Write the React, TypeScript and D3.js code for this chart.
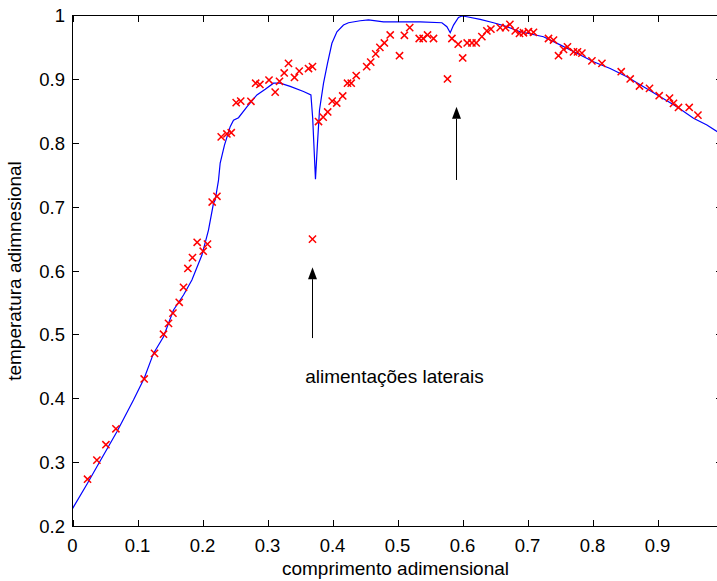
import React, { useEffect, useRef } from 'react';
import * as d3 from 'd3';

// Simulated profile (blue line)
const lineX = [0, 0.0231, 0.0375, 0.0683, 0.0938, 0.1103, 0.1246, 0.14, 0.1554, 0.1708, 0.1837, 0.1991, 0.2092, 0.2169, 0.2195, 0.2246, 0.2272, 0.2338, 0.2426, 0.2477, 0.2554, 0.2683, 0.2837, 0.2965, 0.3092, 0.3195, 0.3349, 0.3554, 0.3668, 0.3695, 0.3738, 0.3769, 0.38, 0.3862, 0.3923, 0.3991, 0.4068, 0.4169, 0.4246, 0.4426, 0.4554, 0.4785, 0.5015, 0.5349, 0.5683, 0.576, 0.5811, 0.5862, 0.5938, 0.5991, 0.6068, 0.6272, 0.6477, 0.6683, 0.6888, 0.7246, 0.7503, 0.776, 0.8015, 0.8272, 0.8529, 0.8785, 0.9042, 0.9298, 0.9554, 0.976, 1.0];
const lineY = [0.228, 0.2676, 0.2936, 0.3484, 0.398, 0.432, 0.471, 0.497, 0.539, 0.5624, 0.586, 0.625, 0.664, 0.706, 0.711, 0.742, 0.769, 0.797, 0.826, 0.836, 0.84, 0.857, 0.8756, 0.8845, 0.894, 0.894, 0.889, 0.881, 0.8756, 0.8395, 0.7436, 0.8, 0.852, 0.894, 0.925, 0.9565, 0.9746, 0.985, 0.9887, 0.9918, 0.993, 0.99, 0.99, 0.99, 0.9887, 0.9824, 0.973, 0.985, 0.997, 0.9992, 0.998, 0.994, 0.9887, 0.9825, 0.9746, 0.9668, 0.954, 0.941, 0.9277, 0.917, 0.904, 0.8885, 0.8729, 0.857, 0.839, 0.8286, 0.813];

// Experimental points (red x)
const markX = [0.0231, 0.0375, 0.0514, 0.0668, 0.1103, 0.1262, 0.14, 0.1477, 0.1545, 0.1642, 0.1708, 0.1775, 0.1846, 0.1918, 0.2011, 0.2077, 0.2149, 0.2222, 0.2288, 0.2375, 0.2442, 0.2518, 0.2588, 0.2745, 0.2818, 0.2883, 0.3023, 0.3118, 0.3185, 0.3257, 0.3323, 0.3415, 0.3488, 0.3631, 0.3692, 0.3692, 0.3785, 0.3857, 0.3926, 0.3995, 0.4065, 0.4157, 0.4231, 0.4288, 0.4365, 0.4526, 0.4588, 0.4665, 0.4729, 0.4798, 0.4888, 0.5031, 0.5106, 0.5188, 0.5334, 0.5395, 0.5462, 0.5554, 0.5769, 0.5837, 0.5934, 0.6003, 0.6072, 0.6145, 0.6211, 0.6298, 0.6375, 0.6437, 0.658, 0.6662, 0.6729, 0.6811, 0.6877, 0.6938, 0.7015, 0.7092, 0.7323, 0.74, 0.7477, 0.7554, 0.7615, 0.7708, 0.7769, 0.7837, 0.7991, 0.8145, 0.8442, 0.858, 0.8723, 0.8877, 0.9026, 0.9185, 0.9246, 0.9323, 0.9488, 0.9622];
const markY = [0.274, 0.304, 0.328, 0.353, 0.431, 0.471, 0.501, 0.518, 0.534, 0.551, 0.5745, 0.604, 0.621, 0.645, 0.631, 0.642, 0.708, 0.717, 0.81, 0.8145, 0.8165, 0.8635, 0.866, 0.8657, 0.894, 0.892, 0.899, 0.88, 0.897, 0.91, 0.925, 0.903, 0.913, 0.917, 0.92, 0.65, 0.834, 0.841, 0.849, 0.866, 0.863, 0.874, 0.894, 0.894, 0.906, 0.92, 0.927, 0.94, 0.95, 0.957, 0.9695, 0.937, 0.969, 0.981, 0.964, 0.964, 0.9695, 0.964, 0.9006, 0.964, 0.955, 0.9335, 0.957, 0.957, 0.957, 0.967, 0.976, 0.9786, 0.981, 0.981, 0.986, 0.976, 0.972, 0.973, 0.9746, 0.9737, 0.964, 0.9616, 0.937, 0.947, 0.951, 0.943, 0.943, 0.941, 0.929, 0.925, 0.912, 0.9006, 0.8896, 0.886, 0.8744, 0.8708, 0.8625, 0.856, 0.856, 0.844];

// x tick at 1 lies beyond the visible picture; its label is not shown
const xTickValues = [0, 0.1, 0.2, 0.3, 0.4, 0.5, 0.6, 0.7, 0.8, 0.9, 1];
const xTickLabels = ['0', '0.1', '0.2', '0.3', '0.4', '0.5', '0.6', '0.7', '0.8', '0.9', ''];
const yTickValues = [0.2, 0.3, 0.4, 0.5, 0.6, 0.7, 0.8, 0.9, 1];
const yTickLabels = ['0.2', '0.3', '0.4', '0.5', '0.6', '0.7', '0.8', '0.9', '1'];

const xTitle = 'comprimento adimensional';
const yTitle = 'temperatura adimnesional';
const noteText = 'alimentações laterais';
const notePos = [0.358, 0.4246];
const arrowX = [0.3689, 0.5895];
const arrowTailY = [0.495, 0.7425];
const arrowHeadY = [0.606, 0.857];

const FONT = 'Liberation Sans, Arial, Helvetica, sans-serif';

export default function App() {
  const ref = useRef<SVGSVGElement>(null);
  useEffect(() => {
    const svg = d3.select(ref.current);
    svg.selectAll('*').remove();
    const left = 72.5, right = 722.5, top = 15.5, bottom = 526.5;
    const x = d3.scaleLinear().domain([0, 1]).range([left, right]);
    const y = d3.scaleLinear().domain([0.2, 1]).range([bottom, top]);
    const tickLen = 6.5;

    svg.append('rect').attr('width', 717).attr('height', 581).attr('fill', '#fff');

    // blue line
    const pts = lineX.map((v, i) => [v, lineY[i]] as [number, number]);
    svg.append('path')
      .attr('d', d3.line<[number, number]>().x(d => x(d[0])).y(d => y(d[1]))(pts))
      .attr('fill', 'none').attr('stroke', '#0000ff').attr('stroke-width', 1.2);

    // markers
    const s = 3.6;
    const mg = svg.append('g');
    markX.forEach((v, i) => {
      const cx = x(v);
      const cy = y(markY[i]);
      mg.append('path')
        .attr('d', `M${cx - s},${cy - s}L${cx + s},${cy + s}M${cx - s},${cy + s}L${cx + s},${cy - s}`)
        .attr('stroke', '#ff0000').attr('stroke-width', 1.5).attr('fill', 'none');
    });

    // box
    const g = svg.append('g').attr('stroke', '#000').attr('stroke-width', 1).attr('fill', 'none');
    g.append('rect').attr('x', left).attr('y', top).attr('width', right - left).attr('height', bottom - top);
    xTickValues.forEach(v => {
      const px = Math.round(x(v)) + 0.5;
      g.append('line').attr('x1', px).attr('x2', px).attr('y1', bottom).attr('y2', bottom - tickLen);
      g.append('line').attr('x1', px).attr('x2', px).attr('y1', top).attr('y2', top + tickLen);
    });
    yTickValues.forEach(v => {
      const py = Math.round(y(v) - 0.5) + 0.5;
      g.append('line').attr('x1', left).attr('x2', left + tickLen).attr('y1', py).attr('y2', py);
      g.append('line').attr('x1', right).attr('x2', right - tickLen).attr('y1', py).attr('y2', py);
    });

    // tick labels
    const tl = svg.append('g').attr('font-family', FONT).attr('font-size', 18.5).attr('fill', '#000');
    xTickValues.forEach((v, i) => {
      if (!xTickLabels[i]) return;
      tl.append('text').attr('x', x(v)).attr('y', bottom + 25.5).attr('text-anchor', 'middle').text(xTickLabels[i]);
    });
    yTickValues.forEach((v, i) => {
      tl.append('text').attr('x', left - 7.5).attr('y', y(v) + 6.6).attr('text-anchor', 'end').text(yTickLabels[i]);
    });

    // titles
    svg.append('text').attr('x', (left + right) / 2 - 2).attr('y', 575)
      .attr('text-anchor', 'middle').attr('font-family', FONT).attr('font-size', 19).text(xTitle);
    svg.append('text').attr('transform', `translate(21,${(top + bottom) / 2}) rotate(-90)`)
      .attr('text-anchor', 'middle').attr('font-family', FONT).attr('font-size', 19).text(yTitle);

    // annotation
    svg.append('text').attr('x', x(notePos[0])).attr('y', y(notePos[1]))
      .attr('font-family', FONT).attr('font-size', 19).text(noteText);
    arrowX.forEach((v, i) => {
      const ax = Math.round(x(v)) + 0.5;
      const tip = y(arrowHeadY[i]);
      const tail = y(arrowTailY[i]);
      const hl = 12, hw = 4.5;
      svg.append('line').attr('x1', ax).attr('x2', ax).attr('y1', tail).attr('y2', tip + hl)
        .attr('stroke', '#000').attr('stroke-width', 1);
      svg.append('path').attr('d', `M${ax},${tip}L${ax - hw},${tip + hl}L${ax + hw},${tip + hl}Z`)
        .attr('fill', '#000');
    });
  }, []);
  return <svg ref={ref} width={717} height={581} style={{ position: 'absolute', left: 0, top: 0 }} />;
}
